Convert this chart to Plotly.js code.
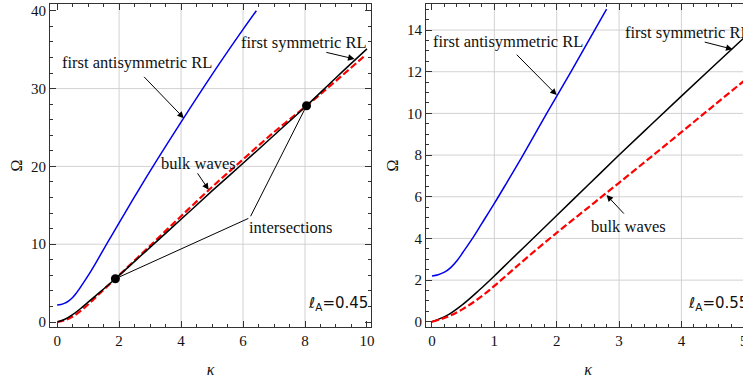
<!DOCTYPE html>
<html>
<head>
<meta charset="utf-8">
<script src="https://cdn.plot.ly/plotly-3.0.1.min.js"></script>
<style>
  html, body { margin: 0; padding: 0; overflow: hidden; background: #fff; }
  #plot { width: 760px; height: 378px; }
</style>
</head>
<body>
<div id="plot"></div>
<script>
// ---- left panel: l_A = 0.45 ----
const leftAntiK = [0, 0.125, 0.25, 0.375, 0.5, 0.625, 0.75, 1.0, 1.25, 1.5, 1.75, 2.0, 2.5, 3.0, 4.0, 5.0, 6.0, 6.43];
const leftAntiW = [2.2, 2.26, 2.42, 2.72, 3.15, 3.75, 4.45, 5.95, 7.6, 9.35, 11.05, 12.75, 16.1, 19.4, 25.7, 31.8, 37.6, 40.0];
const leftSymK  = [0, 0.25, 0.5, 0.75, 1.0, 1.25, 1.5, 1.88, 3.0, 4.0, 5.0, 6.0, 7.0, 8.05, 9.0, 10.0];
const leftSymW  = [0, 0.35, 0.95, 1.7, 2.55, 3.4, 4.25, 5.56, 9.6, 13.2, 16.85, 20.4, 24.0, 27.8, 31.4, 35.1];
const leftBulkK = [0, 0.25, 0.5, 0.75, 1.0, 1.25, 1.5, 1.88, 3.0, 4.0, 5.0, 6.0, 7.0, 8.05, 9.0, 9.95];
const leftBulkW = [0, 0.22, 0.7, 1.4, 2.25, 3.2, 4.15, 5.56, 9.8, 13.6, 17.35, 20.9, 24.4, 27.8, 31.0, 34.3];
const crossK = [1.88, 8.05];
const crossW = [5.56, 27.8];

// ---- right panel: l_A = 0.55 ----
const rightAntiK = [0, 0.1, 0.2, 0.3, 0.4, 0.5, 0.66, 0.8, 1.0, 1.2, 1.46, 1.84, 2.23, 2.8];
const rightAntiW = [2.2, 2.26, 2.38, 2.6, 2.93, 3.35, 4.05, 4.72, 5.68, 6.68, 8.0, 10.0, 12.0, 15.0];
const rightSymK  = [0, 0.25, 0.5, 0.75, 1.0, 1.25, 1.5, 2.0, 2.5, 3.0, 3.5, 4.0, 4.5, 5.0];
const rightSymW  = [0, 0.32, 0.85, 1.5, 2.2, 2.93, 3.65, 5.1, 6.55, 8.0, 9.42, 10.83, 12.23, 13.62];
const rightBulkK = [0, 0.25, 0.5, 0.75, 1.0, 1.25, 1.5, 2.0, 2.5, 3.0, 3.5, 4.0, 4.5, 5.0];
const rightBulkW = [0, 0.24, 0.62, 1.12, 1.72, 2.37, 3.02, 4.27, 5.47, 6.67, 7.88, 9.1, 10.33, 11.55];

// grid positions
const leftGridK = [2, 4, 6, 8];
const leftGridW = [10, 20, 30];
const rightGridK = [1, 2, 3, 4];
const rightGridW = [2, 4, 6, 8, 10, 12, 14];

const serif = 'Liberation Serif, Times New Roman, serif';
const frameColor = '#333';
const gridColor = '#d2d2d2';

function curve(x, y, xa, ya, color, width, dash) {
  return {
    x: x, y: y, xaxis: xa, yaxis: ya, type: 'scatter', mode: 'lines',
    line: { color: color, width: width, dash: dash || 'solid', shape: 'spline', smoothing: 1 },
    hoverinfo: 'skip', showlegend: false
  };
}

const traces = [
  curve(leftAntiK, leftAntiW, 'x', 'y', '#0000ee', 1.5),
  curve(leftBulkK, leftBulkW, 'x', 'y', '#ff0000', 2.2, '7px,3px'),
  curve(leftSymK, leftSymW, 'x', 'y', '#000000', 1.5),
  {
    x: crossK, y: crossW, xaxis: 'x', yaxis: 'y', type: 'scatter', mode: 'markers',
    marker: { color: '#000', size: 9 }, hoverinfo: 'skip', showlegend: false
  },
  curve(rightAntiK, rightAntiW, 'x2', 'y2', '#0000ee', 1.5),
  curve(rightSymK, rightSymW, 'x2', 'y2', '#000000', 1.5),
  curve(rightBulkK, rightBulkW, 'x2', 'y2', '#ff0000', 2.2, '7px,3px')
];

function axis(range, dtick, minorDtick, domain, anchor, titleText, isX) {
  return {
    domain: domain, anchor: anchor, range: range, dtick: dtick, tick0: 0,
    showgrid: false, zeroline: false,
    showline: true, linecolor: frameColor, linewidth: 1, mirror: 'allticks',
    ticks: 'inside', ticklen: 6, tickwidth: 1, tickcolor: frameColor,
    minor: { dtick: minorDtick, ticks: 'inside', ticklen: 3, tickwidth: 1, tickcolor: frameColor, showgrid: false },
    tickfont: { family: serif, size: 15, color: '#111' },
    title: {
      text: titleText,
      font: { family: serif, size: 16, color: '#111', style: isX ? 'italic' : 'normal' },
      standoff: isX ? 17 : 4
    },
    automargin: false, fixedrange: true
  };
}

const W = 760, H = 378;
const yDom = [1 - 327 / H, 1 - 4 / H];

const shapes = [];
function vlines(vals, xref, yref) {
  vals.forEach(v => shapes.push({ type: 'line', layer: 'below', xref: xref, yref: yref + ' domain',
    x0: v, x1: v, y0: 0, y1: 1, line: { color: gridColor, width: 1 } }));
}
function hlines(vals, xref, yref) {
  vals.forEach(v => shapes.push({ type: 'line', layer: 'below', xref: xref + ' domain', yref: yref,
    x0: 0, x1: 1, y0: v, y1: v, line: { color: gridColor, width: 1 } }));
}
vlines(leftGridK, 'x', 'y');
hlines(leftGridW, 'x', 'y');
vlines(rightGridK, 'x2', 'y2');
hlines(rightGridW, 'x2', 'y2');

const textFont = { family: serif, size: 16.5, color: '#111' };
const labelFont = { family: 'DejaVu Sans, sans-serif', size: 15, color: '#111' };

function label(text, x, y, xr, yr, xanchor, font) {
  return { text: text, x: x, y: y, xref: xr, yref: yr, showarrow: false,
    xanchor: xanchor || 'center', yanchor: 'middle', font: font || textFont };
}
function pointer(tipX, tipY, tailX, tailY, xr, yr, head) {
  return { text: '', x: tipX, y: tipY, ax: tailX, ay: tailY, xref: xr, yref: yr, axref: xr, ayref: yr,
    showarrow: true, arrowhead: head, arrowsize: 1.3, arrowwidth: 1, arrowcolor: '#000', standoff: 0, startstandoff: 0 };
}

const annotations = [
  // left panel
  label('first antisymmetric RL', 2.57, 33.4, 'x', 'y'),
  pointer(4.09, 26.2, 2.76, 31.7, 'x', 'y', 2),
  label('first symmetric RL', 7.97, 35.9, 'x', 'y'),
  pointer(9.6, 33.8, 8.64, 34.7, 'x', 'y', 2),
  label('bulk waves', 4.57, 20.4, 'x', 'y'),
  pointer(4.89, 17.0, 4.5, 19.3, 'x', 'y', 2),
  label('intersections', 7.52, 12.1, 'x', 'y'),
  pointer(crossK[0], crossW[0], 6.22, 13.4, 'x', 'y', 0),
  pointer(crossK[1], crossW[1], 6.22, 13.4, 'x', 'y', 0),
  label('ℓ<sub>A</sub>=0.45', 8.02, 2.44, 'x', 'y', 'left', labelFont),
  // right panel
  label('first antisymmetric RL', 1.215, 13.44, 'x2', 'y2'),
  pointer(2.0, 10.88, 1.335, 12.89, 'x2', 'y2', 2),
  label('first symmetric RL', 3.07, 13.9, 'x2', 'y2', 'left'),
  pointer(4.82, 13.08, 4.35, 13.44, 'x2', 'y2', 2),
  label('bulk waves', 3.15, 4.59, 'x2', 'y2'),
  pointer(2.8, 6.08, 3.1, 5.12, 'x2', 'y2', 2),
  label('ℓ<sub>A</sub>=0.55', 4.08, 0.9, 'x2', 'y2', 'left', labelFont)
];

const layout = {
  width: W, height: H,
  margin: { l: 0, r: 0, t: 0, b: 0, pad: 0 },
  paper_bgcolor: '#fff', plot_bgcolor: '#fff',
  showlegend: false,
  xaxis: axis([-0.23, 10.13], 2, 0.5, [50 / W, 371 / W], 'y', 'κ', true),
  yaxis: axis([-0.64, 40.87], 10, 2, yDom, 'x', 'Ω', false),
  xaxis2: axis([-0.096, 5.1], 1, 0.2, [426 / W, 750 / W], 'y2', 'κ', true),
  yaxis2: axis([-0.25, 15.25], 2, 0.5, yDom, 'x2', 'Ω', false),
  shapes: shapes,
  annotations: annotations
};

Plotly.newPlot('plot', traces, layout, { staticPlot: true, displayModeBar: false });
</script>
</body>
</html>
